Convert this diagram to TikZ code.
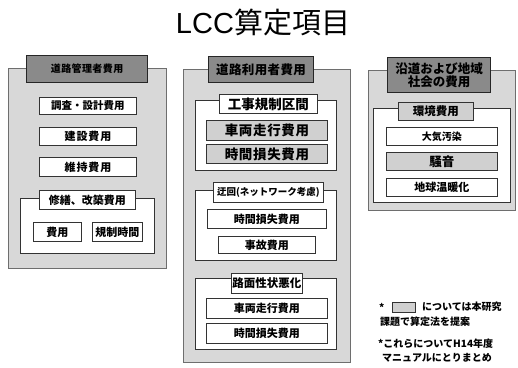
\documentclass[tikz,border=0pt]{standalone}
\usepackage{fontspec}
\setmainfont{Noto Sans CJK JP}
\newfontfamily\titlefont{Liberation Sans}
\definecolor{panelgray}{HTML}{D8D8D8}
\definecolor{hdrgray}{HTML}{8A8A8A}
\definecolor{boxgray}{HTML}{D0D0D0}
\definecolor{edgegray}{HTML}{6E6E6E}
\tikzset{
  x=1pt, y=-1pt,
  base/.style={rectangle, anchor=north west, inner sep=0pt, align=center},
  panel/.style={base, draw=edgegray, fill=panelgray, line width=1.1pt},
  hdr/.style={base, draw=black!85, fill=hdrgray, line width=1.2pt, font=\bfseries},
  grp/.style={base, draw=black!80, fill=white, line width=0.9pt},
  wbox/.style={base, draw=black!80, fill=white, line width=0.9pt, font=\bfseries},
  gbox/.style={base, draw=black!80, fill=boxgray, line width=0.9pt, font=\bfseries},
  txt/.style={anchor=west, inner sep=0pt, font=\bfseries\fontsize{10}{12}\selectfont},
}
\newcommand{\fs}[1]{\fontsize{#1}{#1}\selectfont}
\newcommand{\ls}[1]{\addfontfeature{LetterSpace=#1}}
\begin{document}
\begin{tikzpicture}
\useasboundingbox (0,0) rectangle (518,367);
% title
\node[inner sep=0pt, font=\fs{29}] (title) at (263,22) {{\titlefont LCC}算定項目};

% ---- left panel ----
\node[panel, minimum width=158pt, minimum height=200pt] (p1) at (8,68) {};
\node[hdr, minimum width=121pt, minimum height=27pt, font=\bfseries\fs{10}\ls{4}] (h1) at (26,55) {道路管理者費用};
\node[wbox, minimum width=97pt, minimum height=17pt, font=\bfseries\fs{10.5}] (l1) at (39,97) {調査・設計費用};
\node[wbox, minimum width=97pt, minimum height=18pt, font=\bfseries\fs{11}\ls{8}] (l2) at (39,127) {建設費用};
\node[wbox, minimum width=97pt, minimum height=19pt, font=\bfseries\fs{11}\ls{8}] (l3) at (39,157) {維持費用};
\node[grp, minimum width=134pt, minimum height=55pt] (g1) at (20,198) {};
\node[wbox, minimum width=96pt, minimum height=19pt, font=\bfseries\fs{11}] (g1h) at (39,190) {修繕、改築費用};
\node[wbox, minimum width=48pt, minimum height=19pt, font=\bfseries\fs{11}] (l4) at (33,222) {費用};
\node[wbox, minimum width=50pt, minimum height=19pt, font=\bfseries\fs{11}] (l5) at (92,222) {規制時間};

% ---- middle panel ----
\node[panel, minimum width=167pt, minimum height=293pt] (p2) at (183,69) {};
\node[hdr, minimum width=105pt, minimum height=26pt, font=\bfseries\fs{12.5}\ls{3}] (h2) at (208,56) {道路利用者費用};
\node[grp, minimum width=141pt, minimum height=70pt] (g2) at (195,100) {};
\node[wbox, minimum width=98pt, minimum height=19pt, font=\bfseries\fs{13.5}] (g2h) at (219,94) {工事規制区間};
\node[gbox, minimum width=121pt, minimum height=20pt, font=\bfseries\fs{13.5}\ls{5}] (m1) at (206,120) {車両走行費用};
\node[gbox, minimum width=121pt, minimum height=19pt, font=\bfseries\fs{13.5}\ls{5}] (m2) at (206,144) {時間損失費用};
\node[grp, minimum width=141pt, minimum height=70pt] (g3) at (195,190) {};
\node[wbox, minimum width=110pt, minimum height=20pt, font=\bfseries\fs{9.5}] (g3h) at (213,182) {迂回(ネットワーク考慮)};
\node[wbox, minimum width=119pt, minimum height=19pt, font=\bfseries\fs{11}] (m3) at (207,209) {時間損失費用};
\node[wbox, minimum width=97pt, minimum height=17pt, font=\bfseries\fs{11}] (m4) at (218,236) {事故費用};
\node[grp, minimum width=141pt, minimum height=71pt] (g4) at (195,278) {};
\node[wbox, minimum width=71pt, minimum height=20pt, font=\bfseries\fs{11.5}] (g4h) at (231,273) {路面性状悪化};
\node[wbox, minimum width=121pt, minimum height=20pt, font=\bfseries\fs{11}] (m5) at (206,298) {車両走行費用};
\node[wbox, minimum width=121pt, minimum height=20pt, font=\bfseries\fs{11}] (m6) at (206,323) {時間損失費用};

% ---- right panel ----
\node[panel, minimum width=147pt, minimum height=140pt] (p3) at (368,70) {};
\node[hdr, minimum width=103pt, minimum height=35pt, font=\bfseries\fs{12.5}] (h3) at (387,57) {沿道および地域\\[1pt]社会の費用};
\node[grp, minimum width=137pt, minimum height=94pt] (g5) at (373,108) {};
\node[gbox, minimum width=75pt, minimum height=18pt, font=\bfseries\fs{11.5}] (g5h) at (398,102) {環境費用};
\node[wbox, minimum width=111pt, minimum height=18pt, font=\bfseries\fs{10}] (r1) at (386,127) {大気汚染};
\node[gbox, minimum width=111pt, minimum height=18pt, font=\bfseries\fs{12.5}] (r2) at (386,152) {騒音};
\node[wbox, minimum width=111pt, minimum height=18pt, font=\bfseries\fs{11}] (r3) at (386,178) {地球温暖化};

% ---- legend ----
\node[txt] (star1) at (379,307) {*};
\node[base, draw=black!80, fill=boxgray, line width=0.8pt, minimum width=23pt, minimum height=10pt] (lgbox) at (392,302) {};
\node[txt] (lg1) at (422,307) {については本研究};
\node[txt] (lg2) at (380,322) {課題で算定法を提案};
\node[txt] (lg3) at (378,344) {*これらについてH14年度};
\node[txt] (lg4) at (382,358) {マニュアルにとりまとめ};
\end{tikzpicture}
\end{document}
